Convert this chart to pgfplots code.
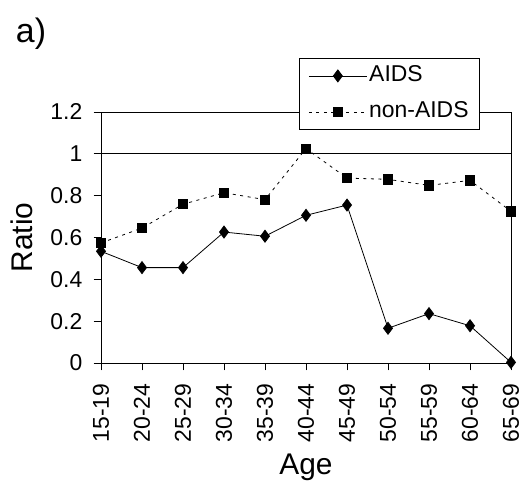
\documentclass[border=0pt]{standalone}
\usepackage{pgfplots}
\pgfplotsset{compat=1.18}
\usepackage{fontspec}
\setmainfont{Liberation Sans}
\begin{document}
\begin{tikzpicture}[x=1bp,y=1bp]
\path[use as bounding box] (0,0) rectangle (525,486);
\node[anchor=center, font=\fontsize{34}{40}\selectfont] at (31,452) {a)};
\begin{axis}[
  at={(101bp,123bp)}, anchor=south west,
  scale only axis, width=410bp, height=251bp,
  xmin=0, xmax=10, ymin=0, ymax=1.2,
  xtick={0,...,10},
  xticklabels={15-19,20-24,25-29,30-34,35-39,40-44,45-49,50-54,55-59,60-64,65-69},
  x tick label style={rotate=90, anchor=east, inner sep=0pt, xshift=-13bp},
  y tick label style={inner sep=0pt, xshift=-11bp},
  ytick={0,0.2,0.4,0.6,0.8,1,1.2},
  tick align=outside, major tick length=7.5bp,
  tick style={black, line width=0.8pt},
  xtick pos=left, ytick pos=left,
  axis line style={line width=0.8pt},
  /pgf/number format/assume math mode=true,
  tick label style={font=\fontsize{23}{27}\selectfont},
  xlabel={Age}, ylabel={Ratio},
  label style={font=\fontsize{30}{34}\selectfont},
  xlabel style={at={(0.5,0)}, anchor=center, yshift=-104bp},
  ylabel style={at={(0,0.5)}, anchor=center, yshift=79bp},
  extra y ticks={1}, extra y tick labels={},
  extra y tick style={grid=major, major grid style={black, line width=0.8pt}, major tick length=0pt},
  clip=false,
  legend style={at={(0.483,1.215)}, anchor=north west, draw=black, fill=white,
    font=\fontsize{23}{27}\selectfont, row sep=10bp, inner xsep=9bp, inner ysep=4.5bp, line width=0.8pt,
    nodes={inner sep=2bp, text height=17bp, text depth=5bp}},
  legend cell align=left,
  legend image code/.code={\draw[mark repeat=2,mark phase=2,#1] plot coordinates {(0bp,0bp) (29bp,0bp) (58bp,0bp)};},
]
\addplot[black, line width=0.8pt, mark=diamond*, mark size=6bp, mark options={solid}] coordinates {
(0,0.534) (1,0.456) (2,0.456) (3,0.626) (4,0.606) (5,0.706) (6,0.755) (7,0.166) (8,0.236) (9,0.178) (10,0.003)};
\addlegendentry{AIDS}
\addplot[black, line width=0.8pt, dash pattern=on 3bp off 4.5bp, mark=square*, mark size=4.6bp, mark options={solid}] coordinates {
(0,0.574) (1,0.645) (2,0.759) (3,0.814) (4,0.781) (5,1.025) (6,0.884) (7,0.878) (8,0.849) (9,0.873) (10,0.725)};
\addlegendentry{non-AIDS}
\end{axis}
\end{tikzpicture}
\end{document}
